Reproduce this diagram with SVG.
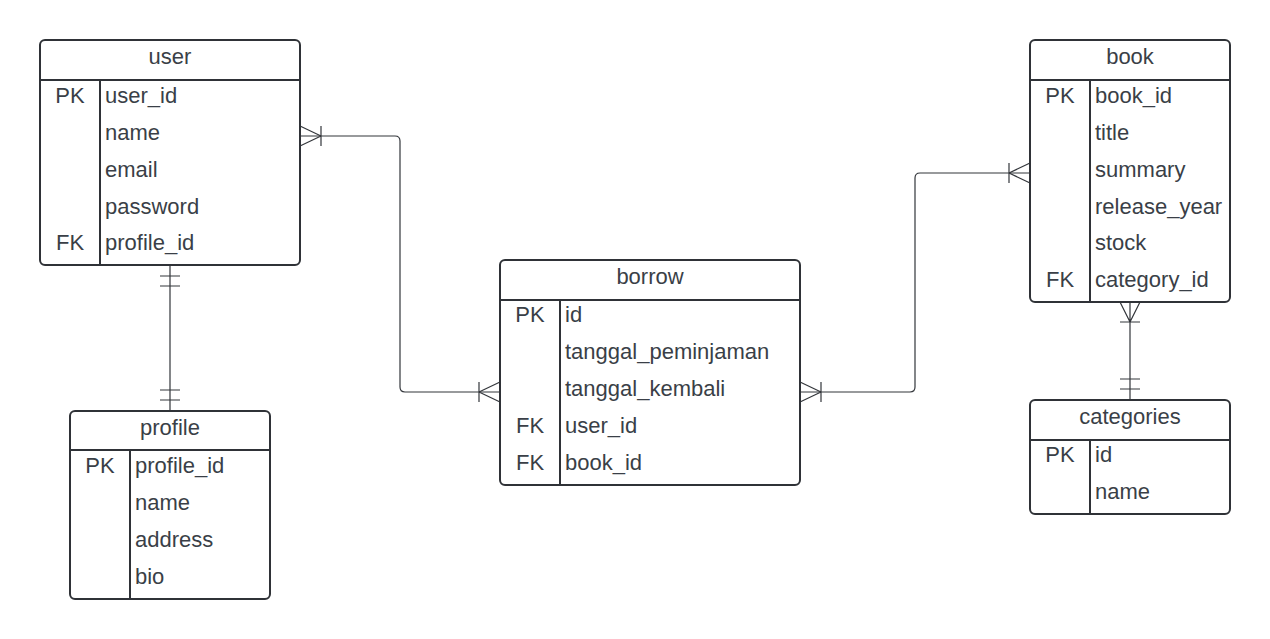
<svg xmlns="http://www.w3.org/2000/svg" width="1270" height="639" viewBox="0 0 1270 639">
<style>
.box{fill:#fff;stroke:#2f3237;stroke-width:2}
.ln{stroke:#2f3237;stroke-width:2;fill:none}
.t{font-family:"Liberation Sans",Arial,sans-serif;font-size:22px;fill:#3a3f47}
.c{text-anchor:middle}
.cn{stroke:#33363b;stroke-width:1.2;fill:none}
</style>
<rect width="1270" height="639" fill="#fff"/>
<g id="connectors">
<path class="cn" d="M300,136 H395 Q400,136 400,141 V387 Q400,392 405,392 H500"/>
<path class="cn" d="M300,126 L321,136 M300,146 L321,136 M321,126 V146"/>
<path class="cn" d="M500,382 L479,392 M500,402 L479,392 M479,382 V402"/>
<path class="cn" d="M800,392 H910 Q915,392 915,387 V178 Q915,173 920,173 H1030"/>
<path class="cn" d="M800,382 L821,392 M800,402 L821,392 M821,382 V402"/>
<path class="cn" d="M1030,163 L1009,173 M1030,183 L1009,173 M1009,163 V183"/>
<path class="cn" d="M170,265 V410 M160,276 H180 M160,286 H180 M160,390 H180 M160,400 H180"/>
<path class="cn" d="M1130,302 V400 M1120,302 L1130,322 M1140,302 L1130,322 M1120,322 H1140 M1120,379 H1140 M1120,389 H1140"/>
</g>
<g id="user">
<rect class="box" x="40" y="40" width="260" height="225" rx="5"/>
<path class="ln" d="M40,80 H300 M100,80 V265"/>
<text class="t c" x="170" y="64">user</text>
<text class="t c" x="70" y="103">PK</text>
<text class="t" x="105" y="103">user_id</text>
<text class="t" x="105" y="140">name</text>
<text class="t" x="105" y="177">email</text>
<text class="t" x="105" y="214">password</text>
<text class="t c" x="70" y="250">FK</text>
<text class="t" x="105" y="250">profile_id</text>
</g>
<g id="profile">
<rect class="box" x="70" y="411" width="200" height="188" rx="5"/>
<path class="ln" d="M70,450 H270 M130,450 V599"/>
<text class="t c" x="170" y="435">profile</text>
<text class="t c" x="100" y="473">PK</text>
<text class="t" x="135" y="473">profile_id</text>
<text class="t" x="135" y="510">name</text>
<text class="t" x="135" y="547">address</text>
<text class="t" x="135" y="584">bio</text>
</g>
<g id="borrow">
<rect class="box" x="500" y="260" width="300" height="225" rx="5"/>
<path class="ln" d="M500,300 H800 M560,300 V485"/>
<text class="t c" x="650" y="284">borrow</text>
<text class="t c" x="530" y="322">PK</text>
<text class="t" x="565" y="322">id</text>
<text class="t" x="565" y="359">tanggal_peminjaman</text>
<text class="t" x="565" y="396">tanggal_kembali</text>
<text class="t c" x="530" y="433">FK</text>
<text class="t" x="565" y="433">user_id</text>
<text class="t c" x="530" y="470">FK</text>
<text class="t" x="565" y="470">book_id</text>
</g>
<g id="book">
<rect class="box" x="1030" y="40" width="200" height="262" rx="5"/>
<path class="ln" d="M1030,80 H1230 M1090,80 V302"/>
<text class="t c" x="1130" y="64">book</text>
<text class="t c" x="1060" y="103">PK</text>
<text class="t" x="1095" y="103">book_id</text>
<text class="t" x="1095" y="140">title</text>
<text class="t" x="1095" y="177">summary</text>
<text class="t" x="1095" y="214">release_year</text>
<text class="t" x="1095" y="250">stock</text>
<text class="t c" x="1060" y="287">FK</text>
<text class="t" x="1095" y="287">category_id</text>
</g>
<g id="categories">
<rect class="box" x="1030" y="400" width="200" height="114" rx="5"/>
<path class="ln" d="M1030,440 H1230 M1090,440 V514"/>
<text class="t c" x="1130" y="424">categories</text>
<text class="t c" x="1060" y="462">PK</text>
<text class="t" x="1095" y="462">id</text>
<text class="t" x="1095" y="499">name</text>
</g>
</svg>
